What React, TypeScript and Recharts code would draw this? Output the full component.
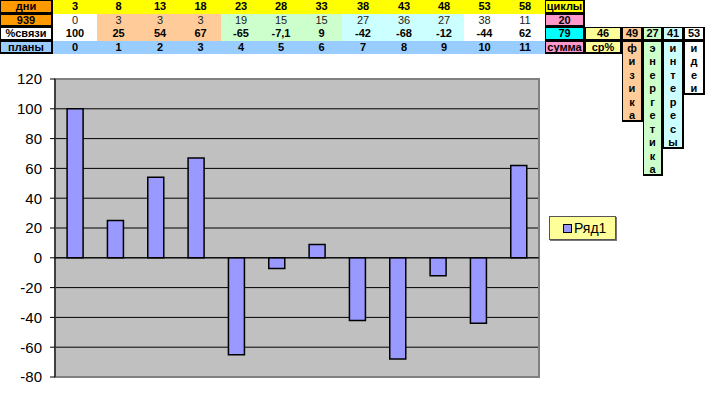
import React from 'react';
import { BarChart, Bar, XAxis, YAxis, CartesianGrid, ReferenceLine, ReferenceArea, Legend } from 'recharts';

// ---- data ----
const days = ['3', '8', '13', '18', '23', '28', '33', '38', '43', '48', '53', '58'];
const counts = ['0', '3', '3', '3', '19', '15', '15', '27', '36', '27', '38', '11'];
const pctLabels = ['100', '25', '54', '67', '-65', '-7,1', '9', '-42', '-68', '-12', '-44', '62'];
const pctValues = [100, 25, 54, 67, -65, -7.1, 9, -42, -68, -12, -44, 62];
const plans = [0, 1, 2, 3, 4, 5, 6, 7, 8, 9, 10, 11];
const yTicks = [-80, -60, -40, -20, 0, 20, 40, 60, 80, 100, 120];
const rowHeaders = ['дни', '939', '%связи', 'планы'];
const rightHeaders = ['циклы', '20', '79', 'сумма'];
const avgLabel = '46';
const avgTitle = 'ср%';
const sideValues = ['49', '27', '41', '53'];
const sideWords = ['физика', 'энергетика', 'интересы', 'идеи'];
const seriesName = 'Ряд1';

const chartData = plans.map((p, i) => ({ plan: p, pct: pctValues[i] }));

// ---- layout / styles ----
const FONT = '"Liberation Sans", Arial, sans-serif';
const colEdges = [53, 97, 140, 180, 221, 261, 301, 342, 384, 424, 464, 505, 545];
const rowTop = [0, 13.5, 27, 40.5];
const RH = 13.5;
const groupFill = ['#FFFFFF', '#FFCC99', '#FFCC99', '#FFCC99', '#CCFFCC', '#CCFFCC', '#CCFFCC', '#CCFFFF', '#CCFFFF', '#CCFFFF', '#FFFFFF', '#FFFFFF'];
const headerFill = ['#FF9900', '#FF9900', '#FFFFFF', '#99CCFF'];
const rightFill = ['#FFFF00', '#FF99CC', '#00FFFF', '#FF99CC'];
const sideFill = ['#FFCC99', '#CCFFCC', '#CCFFFF', '#FFFFFF'];
const sideX = [622, 643, 663, 684, 705];

type CellProps = { x: number; y: number; w: number; h: number; bg: string; text?: string; border?: boolean; bold?: boolean; color?: string };
const Cell = ({ x, y, w, h, bg, text, border, bold = true, color = '#000' }: CellProps) => (
  <div
    style={{
      position: 'absolute', left: x, top: y, width: w, height: h, background: bg,
      boxSizing: 'border-box', border: border ? '1px solid #000' : 'none',
      borderRightWidth: border ? 2 : 0, borderBottomWidth: border ? 2 : 0,
      fontFamily: FONT, fontSize: 11, fontWeight: bold ? 'bold' : 'normal', color,
      textAlign: 'center', lineHeight: (h - (border ? 3 : 0)) + 'px', whiteSpace: 'nowrap', overflow: 'hidden',
    }}
  >
    {text}
  </div>
);

const LegendBox = () => (
  <div
    style={{
      width: 67, height: 24, boxSizing: 'border-box', background: '#FFFF99',
      border: '1px solid #555', boxShadow: '1px 1px 0 #777', display: 'flex', alignItems: 'center',
      fontFamily: FONT, fontSize: 14, color: '#000',
    }}
  >
    <span style={{ display: 'inline-block', width: 7, height: 7, background: '#9999FF', border: '1px solid #000', marginLeft: 13, marginRight: 2 }} />
    <span>{seriesName}</span>
  </div>
);

export default function App() {
  const dataRows = [days, counts, pctLabels, plans.map(String)];
  return (
    <div style={{ position: 'absolute', left: 0, top: 0, width: 707, height: 404, background: '#fff', overflow: 'hidden' }}>
      <div style={{ position: 'absolute', left: 0, top: 0 }}>
        <BarChart width={707} height={404} data={chartData} margin={{ top: 79, right: 168, bottom: 27, left: 0 }} barCategoryGap="30%">
          <CartesianGrid vertical={false} stroke="#000" fill="#C0C0C0" fillOpacity={1} />
          <XAxis dataKey="plan" hide />
          <YAxis
            domain={[-80, 120]}
            ticks={yTicks}
            width={55}
            axisLine={{ stroke: '#000' }}
            tickLine={{ stroke: '#000' }}
            tickSize={5}
            tickMargin={8}
            tick={{ fill: '#000', fontSize: 15, fontFamily: FONT }}
            interval={0}
          />
          <ReferenceArea y1={-80} y2={120} fill="none" stroke="#808080" strokeWidth={2} />
          <ReferenceLine y={0} stroke="#000" />
          <Bar dataKey="pct" name={seriesName} fill="#9999FF" stroke="#000" strokeWidth={1.5} isAnimationActive={false} />
          <Legend
            layout="horizontal"
            verticalAlign="middle"
            align="center"
            content={() => <LegendBox />}
            wrapperStyle={{ left: 549, top: 216, width: 67, height: 24 }}
          />
        </BarChart>
      </div>

      {/* spreadsheet table */}
      {rowHeaders.map((t, r) => (
        <Cell key={'h' + r} x={0} y={rowTop[r]} w={53} h={RH} bg={headerFill[r]} text={t} border />
      ))}
      {dataRows.map((row, r) =>
        row.map((t, c) => (
          <Cell
            key={'d' + r + '-' + c}
            x={colEdges[c]}
            y={rowTop[r]}
            w={colEdges[c + 1] - colEdges[c]}
            h={RH}
            bg={r === 0 ? '#FFFF00' : r === 3 ? '#99CCFF' : groupFill[c]}
            text={t}
            bold={r !== 1}
            color={r === 1 ? '#222' : '#000'}
          />
        ))
      )}
      {rightHeaders.map((t, r) => (
        <Cell key={'r' + r} x={545} y={rowTop[r]} w={40} h={RH} bg={rightFill[r]} text={t} border />
      ))}
      <Cell x={585} y={rowTop[2]} w={37} h={RH} bg="#FFFF99" text={avgLabel} border />
      <Cell x={585} y={rowTop[3]} w={37} h={RH} bg="#FFFF99" text={avgTitle} border />
      {sideValues.map((v, i) => (
        <Cell key={'sv' + i} x={sideX[i]} y={rowTop[2]} w={sideX[i + 1] - sideX[i]} h={RH} bg={sideFill[i]} text={v} border />
      ))}
      {sideWords.map((w, i) => (
        <div
          key={'sw' + i}
          style={{
            position: 'absolute', left: sideX[i], top: rowTop[3], width: sideX[i + 1] - sideX[i],
            height: w.length * RH, background: sideFill[i], boxSizing: 'border-box',
            border: '1px solid #000', borderRightWidth: 2, borderBottomWidth: 2,
          }}
        >
          {w.split('').map((ch, k) => (
            <div key={k} style={{ height: RH, lineHeight: RH + 'px', textAlign: 'center', fontFamily: FONT, fontSize: 11, fontWeight: 'bold', color: '#000' }}>
              {ch}
            </div>
          ))}
        </div>
      ))}
    </div>
  );
}
